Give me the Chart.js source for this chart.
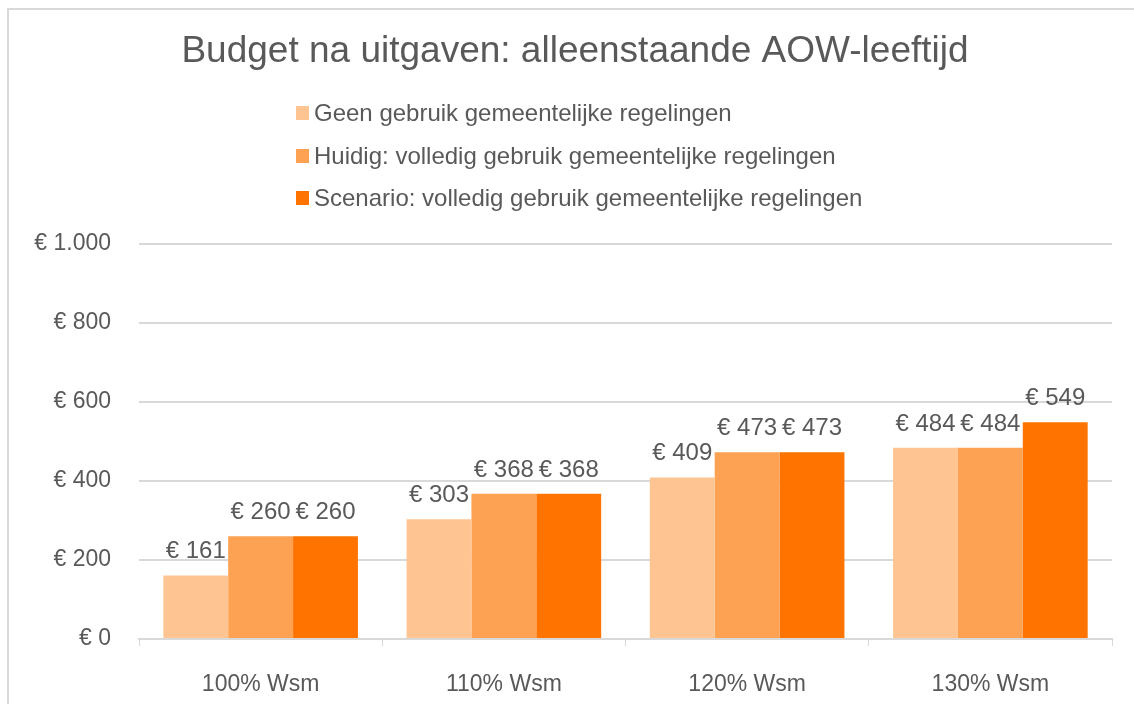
<!DOCTYPE html>
<html>
<head>
<meta charset="utf-8">
<script src="https://cdn.jsdelivr.net/npm/chart.js@4"></script>
<style>
html,body{margin:0;padding:0;background:#fff;overflow:hidden;width:1134px;height:704px;}
#frame{position:absolute;left:7px;top:8px;width:1200px;height:800px;border:2px solid #d9d9d9;box-sizing:border-box;}
#wrap{position:absolute;left:0;top:0;width:1134px;height:704px;}
</style>
</head>
<body>
<div id="frame"></div>
<div id="wrap"><canvas id="c"></canvas></div>
<script>
const chartTitle = 'Budget na uitgaven: alleenstaande AOW-leeftijd';
const categories = ['100% Wsm', '110% Wsm', '120% Wsm', '130% Wsm'];
const seriesNames = [
  'Geen gebruik gemeentelijke regelingen',
  'Huidig: volledig gebruik gemeentelijke regelingen',
  'Scenario: volledig gebruik gemeentelijke regelingen'
];
const geenValues = [161, 303, 409, 484];
const huidigValues = [260, 368, 473, 484];
const scenarioValues = [260, 368, 473, 549];
const yTicks = [0, 200, 400, 600, 800, 1000];
const colors = ['#FEC593', '#FDA152', '#FF7300'];
const textColor = '#595959';
const FONT = '"Liberation Sans", Arial, sans-serif';

function euro(v) {
  const s = String(Math.round(v)).replace(/\B(?=(\d{3})+(?!\d))/g, '.');
  return '€ ' + s;
}

const headerPlugin = {
  id: 'header',
  afterDraw(chart) {
    const ctx = chart.ctx;
    ctx.save();
    ctx.fillStyle = textColor;
    ctx.font = '37px ' + FONT;
    ctx.textAlign = 'center';
    ctx.textBaseline = 'middle';
    ctx.fillText(chartTitle, 575, 52);
    ctx.font = '24px ' + FONT;
    ctx.textAlign = 'left';
    const ys = [113, 156, 198];
    seriesNames.forEach((n, i) => {
      ctx.fillStyle = colors[i];
      ctx.fillRect(296, ys[i] - 7, 13, 14);
      ctx.fillStyle = textColor;
      ctx.fillText(n, 314, ys[i] + 1);
    });
    ctx.restore();
  }
};

const labelPlugin = {
  id: 'barLabels',
  afterDatasetsDraw(chart) {
    const ctx = chart.ctx;
    ctx.save();
    ctx.fillStyle = textColor;
    ctx.font = '24px ' + FONT;
    ctx.textAlign = 'center';
    ctx.textBaseline = 'alphabetic';
    chart.data.datasets.forEach((ds, di) => {
      const meta = chart.getDatasetMeta(di);
      meta.data.forEach((bar, i) => {
        ctx.fillText(euro(ds.data[i]), bar.x, bar.y - 17);
      });
    });
    ctx.restore();
  }
};

new Chart(document.getElementById('c'), {
  type: 'bar',
  data: {
    labels: categories,
    datasets: [
      { label: seriesNames[0], data: geenValues, backgroundColor: colors[0] },
      { label: seriesNames[1], data: huidigValues, backgroundColor: colors[1] },
      { label: seriesNames[2], data: scenarioValues, backgroundColor: colors[2] }
    ]
  },
  options: {
    responsive: true,
    maintainAspectRatio: false,
    animation: false,
    layout: { padding: { top: 244, right: 22, bottom: 0, left: 0 } },
    datasets: { bar: { categoryPercentage: 0.8, barPercentage: 1.0, borderWidth: 0 } },
    plugins: {
      legend: { display: false },
      title: { display: false },
      tooltip: { enabled: false }
    },
    scales: {
      x: {
        grid: { display: true, drawOnChartArea: false, drawTicks: true, tickLength: 7, color: '#d9d9d9', offset: true },
        border: { display: true, color: '#d9d9d9', width: 2 },
        ticks: { color: textColor, font: { family: FONT, size: 23 }, padding: 25 },
        afterFit(scale) { scale.height = 65; }
      },
      y: {
        min: 0, max: 1000,
        afterBuildTicks(scale) { scale.ticks = yTicks.map(v => ({ value: v })); },
        grid: { color: '#d9d9d9', lineWidth: 2, drawTicks: false },
        border: { display: false },
        ticks: { color: textColor, font: { family: FONT, size: 23 }, padding: 28, callback: v => euro(v) },
        afterFit(scale) { scale.width = 139; }
      }
    }
  },
  plugins: [headerPlugin, labelPlugin]
});
</script>
</body>
</html>
